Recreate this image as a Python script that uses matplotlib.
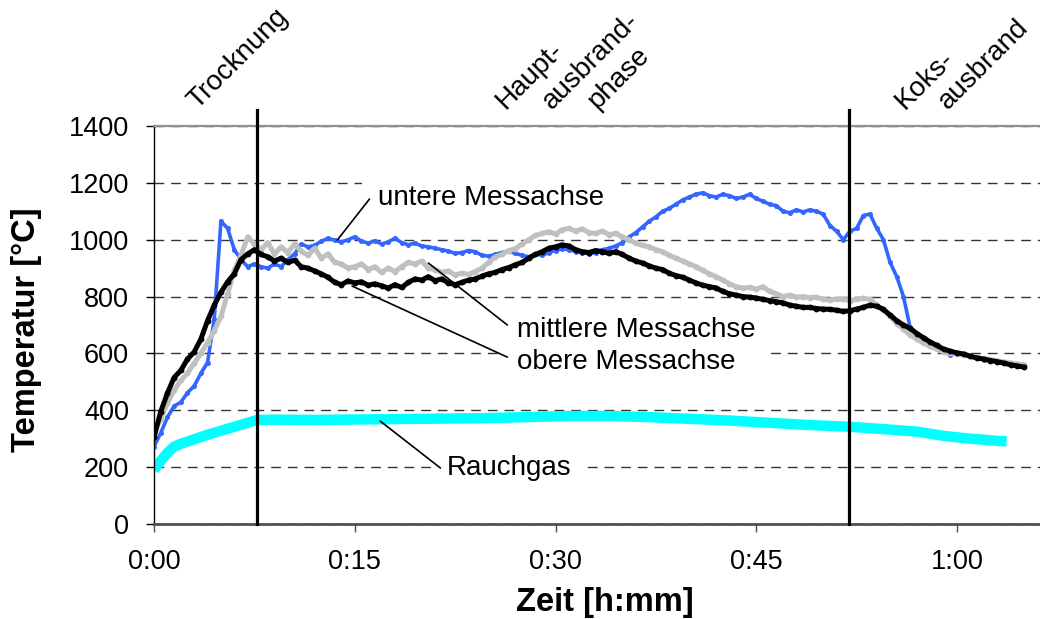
import numpy as np
import matplotlib
matplotlib.use("Agg")
import matplotlib.pyplot as plt
import matplotlib.transforms as mtransforms

plt.rcParams["font.family"] = ["Liberation Sans", "DejaVu Sans"]

# sampling grid of the thermocouples, minutes after ignition
minutes = np.arange(0, 65.5, 0.5)

# lower measuring axis
untere = [
    272, 320, 375, 415, 428, 462, 485, 530, 568, 720,
    1065, 1040, 965, 930, 905, 915, 905, 900, 915, 905,
    930, 950, 985, 975, 980, 995, 1005, 998, 992, 1000,
    1010, 995, 988, 996, 985, 992, 1005, 990, 982, 988,
    978, 975, 970, 965, 960, 952, 955, 962, 958, 945,
    942, 948, 955, 960, 952, 945, 940, 950, 945, 955,
    962, 968, 965, 958, 955, 950, 955, 965, 970, 978,
    990, 1010, 1025, 1045, 1065, 1080, 1100, 1110, 1125, 1140,
    1150, 1160, 1165, 1155, 1150, 1160, 1155, 1145, 1150, 1160,
    1145, 1135, 1125, 1120, 1100, 1095, 1105, 1098, 1105, 1100,
    1090, 1050, 1030, 1000, 1030, 1040, 1085, 1090, 1040, 1000,
    920, 870, 800, 690, 670, 648, 630, 615, 605, 596,
    600, 598, 590, 585, 578, 576, 570, 566, 562, 558,
    555,
]

# middle measuring axis
mittlere = [
    320, 370, 425, 470, 505, 530, 565, 600, 638, 680,
    730, 810, 892, 945, 1010, 985, 965, 990, 950, 975,
    955, 985, 960, 945, 970, 935, 950, 920, 915, 900,
    905, 915, 895, 905, 885, 900, 888, 905, 920, 915,
    925, 900, 895, 885, 890, 876, 882, 878, 888, 900,
    920, 940, 948, 962, 968, 985, 1000, 1015, 1022, 1028,
    1020, 1035, 1040, 1030, 1038, 1025, 1022, 1030, 1018, 1022,
    1010, 1000, 988, 980, 975, 965, 958, 945, 935, 925,
    915, 905, 892, 880, 870, 858, 845, 835, 830, 832,
    826, 835, 818, 810, 800, 805, 798, 800, 796, 798,
    790, 788, 792, 790, 786, 790, 794, 790, 770, 752,
    730, 705, 685, 665, 650, 636, 625, 615, 605, 600,
    598, 594, 590, 586, 582, 578, 574, 570, 566, 563,
    560,
]

# upper measuring axis
obere = [
    305, 395, 460, 515, 540, 580, 605, 650, 715, 770,
    815, 852, 880, 930, 950, 965, 948, 940, 925, 935,
    920, 928, 905, 900, 890, 880, 868, 850, 842, 855,
    848, 852, 840, 845, 838, 830, 842, 832, 850, 862,
    858, 870, 856, 862, 848, 842, 850, 858, 862, 872,
    880, 885, 895, 902, 912, 920, 935, 948, 958, 970,
    975, 982, 978, 965, 958, 955, 962, 958, 952, 958,
    948, 935, 925, 918, 908, 900, 895, 882, 874, 868,
    858, 848, 840, 835, 830, 818, 810, 805, 800, 798,
    795, 790, 786, 782, 778, 770, 766, 762, 762, 758,
    756, 755, 752, 748, 750, 756, 762, 770, 766, 755,
    735, 715, 700, 688, 670, 655, 640, 628, 615, 608,
    602, 598, 590, 584, 580, 575, 571, 566, 560, 556,
    552,
]

# flue gas
rauchgas_min = [0, 0.5, 1, 1.5, 2, 3, 4, 5, 6, 7, 7.7, 9, 12, 16, 20, 24, 28,
                31, 34, 37, 40, 43, 46, 49, 52, 55, 57, 59, 61, 63.7]
rauchgas = [190, 222, 250, 272, 282, 298, 314, 328, 342, 356, 366, 367, 366,
            368, 370, 372, 376, 380, 380, 376, 370, 364, 356, 348, 342, 332,
            325, 310, 300, 290]

# phase boundaries (minutes) and their captions
phase_bounds = [7.7, 51.9]
phase_labels = [
    ("Trocknung", 3.2),
    ("Haupt-", 26.3),
    ("ausbrand-", 29.7),
    ("phase", 33.1),
    ("Koks-", 56.1),
    ("ausbrand", 59.3),
]

xticks = [0, 15, 30, 45, 60]
xticklabels = ["0:00", "0:15", "0:30", "0:45", "1:00"]

fig = plt.figure(figsize=(10.4, 6.19), dpi=100)
ax = fig.add_axes([154 / 1040, 1 - 524 / 619, 886 / 1040, 398 / 619])

ax.plot(rauchgas_min, rauchgas, color="#00FFFF", lw=7.5,
        solid_capstyle="butt", zorder=2)
ax.plot(minutes, untere, color="#3366FF", lw=2.6, marker="o", ms=3.6,
        mec="none", zorder=2.1)
ax.plot(minutes, mittlere, color="#C0C0C0", lw=3.6, marker="o", ms=4.2,
        mec="none", zorder=2.2)
ax.plot(minutes, obere, color="black", lw=3.6, marker="o", ms=4.2,
        mec="none", zorder=2.3)

ax.set_xlim(0, 66.2)
ax.set_ylim(0, 1400)
ax.set_yticks(range(0, 1401, 200))
ax.set_xticks(xticks)
ax.set_xticklabels(xticklabels)

ax.yaxis.grid(True, linestyle=(0, (7, 5)), color="#333333", lw=1)
ax.set_axisbelow(True)

ax.spines["right"].set_visible(False)
ax.spines["top"].set_color("#909090")
ax.spines["top"].set_linewidth(1.6)
ax.spines["left"].set_color("black")
ax.spines["left"].set_linewidth(1)
ax.spines["bottom"].set_color("#505050")
ax.spines["bottom"].set_linewidth(2)

ax.tick_params(axis="x", length=6, width=1, pad=12, labelsize=19.5,
               color="#505050")
ax.tick_params(axis="y", length=6, width=1, pad=12, labelsize=19.5,
               color="black")

# phase boundaries reach a little above the plot area
for t in phase_bounds:
    ax.axvline(t, ymin=0, ymax=1.04, color="black", lw=2.3, clip_on=False,
               zorder=3)

top = mtransforms.blended_transform_factory(ax.transData, ax.transAxes)
for text, t in phase_labels:
    ax.text(t, 1.04, text, transform=top, rotation=45,
            rotation_mode="anchor", ha="left", va="baseline", fontsize=20,
            clip_on=False)

# series captions with leader lines; white boxes first so that
# neighbouring captions do not hide each other
box = dict(boxstyle="square,pad=0.55", fc="white", ec="none")
captions = [
    ("untere Messachse", (16.7, 1147), (16.1, 1143), (13.7, 999)),
    ("mittlere Messachse", (27.1, 682), (26.4, 700), (20.5, 918)),
    ("obere Messachse", (27.1, 570), (26.4, 587), (14.8, 837)),
    ("Rauchgas", (21.9, 197), (21.4, 197), (16.9, 362)),
]
for text, pos, start, end in captions:
    ax.text(pos[0], pos[1], text, ha="left", va="center", fontsize=20,
            color="none", bbox=box, zorder=1)
for text, pos, start, end in captions:
    ax.text(pos[0], pos[1], text, ha="left", va="center", fontsize=20,
            zorder=1.5)
    ax.annotate("", xy=end, xytext=start,
                arrowprops=dict(arrowstyle="-", lw=1.2, color="black",
                                shrinkA=0, shrinkB=0),
                zorder=3)

fig.text(605 / 1040, 1 - 603 / 619, "Zeit [h:mm]", ha="center", va="center",
         fontsize=23.5, fontweight="bold")
fig.text(27 / 1040, 1 - 330 / 619, "Temperatur [°C]", rotation=90,
         ha="center", va="center", fontsize=23.5, fontweight="bold")

fig.savefig("out.png", dpi=100)
